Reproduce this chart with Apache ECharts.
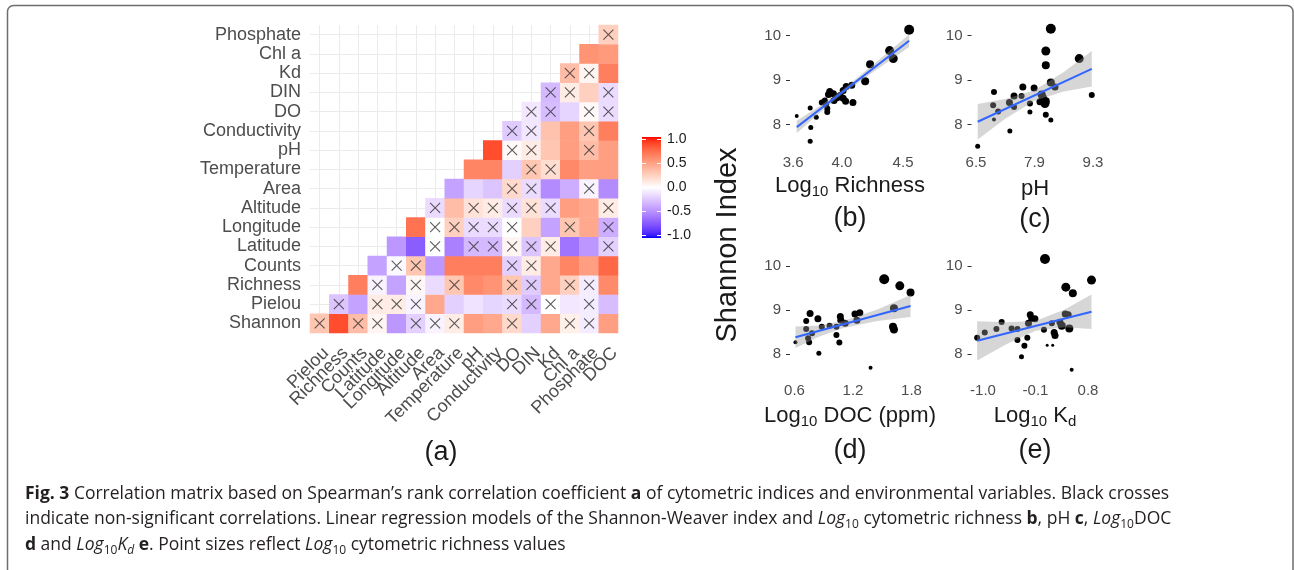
<!DOCTYPE html>
<html>
<head>
<meta charset="utf-8">
<script src="https://cdn.jsdelivr.net/npm/echarts@6.0.0/dist/echarts.min.js"></script>
<style>
html,body{margin:0;padding:0;background:#fff;}
#chart{width:1294px;height:570px;}
</style>
</head>
<body>
<div id="chart"></div>
<script>
// ---------------- DATA ----------------
// heatmap rows (bottom -> top) and columns (left -> right)
const rowVars = ['Shannon','Pielou','Richness','Counts','Latitude','Longitude','Altitude','Area','Temperature','pH','Conductivity','DO','DIN','Kd','Chl a','Phosphate'];
const colVars = ['Pielou','Richness','Counts','Latitude','Longitude','Altitude','Area','Temperature','pH','Conductivity','DO','DIN','Kd','Chl a','Phosphate','DOC'];
// Spearman rho for row i, columns i..15
const corrValues = [
  [0.30, 0.85, 0.35, 0.05, -0.45, -0.20, -0.05, 0.10, 0.50, 0.45, 0.20, -0.20, 0.45, 0.08, -0.08, 0.50],
  [-0.25, -0.40, 0.10, 0.10, -0.05, 0.45, -0.20, -0.12, -0.18, -0.15, -0.30, 0.00, -0.10, -0.08, -0.28],
  [0.65, -0.05, -0.40, 0.04, -0.15, 0.30, 0.60, 0.55, 0.30, -0.22, 0.45, 0.25, -0.08, 0.60],
  [-0.40, -0.02, 0.30, -0.45, 0.65, 0.65, 0.65, -0.20, 0.10, 0.45, 0.62, 0.50, 0.75],
  [-0.45, -0.70, 0.00, -0.55, -0.30, -0.30, 0.05, -0.25, 0.10, -0.60, -0.45, -0.20],
  [0.70, 0.00, 0.25, -0.15, -0.15, 0.00, 0.25, -0.40, 0.30, 0.45, -0.35],
  [-0.15, 0.35, 0.15, 0.10, -0.15, 0.15, -0.15, 0.50, 0.45, 0.10],
  [-0.40, -0.18, -0.25, 0.20, -0.15, -0.50, -0.35, -0.05, -0.50],
  [0.62, 0.62, -0.20, 0.30, 0.18, 0.60, 0.50, 0.50],
  [0.85, 0.03, 0.10, 0.30, 0.50, 0.35, 0.50],
  [-0.22, -0.10, 0.32, 0.50, 0.30, 0.65],
  [-0.10, -0.28, -0.18, 0.03, -0.15],
  [-0.30, 0.10, 0.25, -0.15],
  [0.35, 0.05, 0.65],
  [0.55, 0.52],
  [0.25]
];
// 1 = non-significant (black cross)
const nsFlags = [
  [1,0,1,1,0,1,1,1,0,0,1,0,0,1,1,0],
  [1,0,1,1,1,0,0,0,0,1,1,1,0,1,0],
  [0,1,0,1,0,1,0,0,1,1,0,1,1,0],
  [0,1,1,0,0,0,0,1,1,0,0,0,0],
  [0,0,1,0,1,1,1,1,1,0,0,1],
  [0,1,1,1,1,1,0,0,1,0,1],
  [1,0,1,1,1,1,1,0,0,1],
  [0,0,0,1,1,0,0,1,0],
  [0,0,0,1,1,0,0,0],
  [0,1,1,0,0,1,0],
  [1,1,0,0,1,0],
  [1,1,0,1,1],
  [1,1,0,1],
  [1,1,0],
  [0,0],
  [1]
];
const legendTicks = [1.0, 0.5, 0.0, -0.5, -1.0];

// scatter panels: [x, Shannon index, point diameter]
const richPts = [
  [4.55,10.13,10],[4.39,9.66,9],[4.42,9.48,9],[4.23,9.35,8],[4.19,8.97,8],[4.08,8.88,7],[4.035,8.85,7],
  [4.01,8.76,7],[3.90,8.74,7],[3.93,8.69,7],[3.89,8.67,7],[3.985,8.65,7],[3.86,8.54,6],[3.835,8.49,6],
  [4.01,8.59,7],[4.03,8.52,7],[4.09,8.49,7],[3.935,8.54,7],[3.88,8.36,6],[3.88,8.28,6],[3.79,8.16,5],
  [3.74,8.37,5],[3.63,8.19,4],[3.745,7.93,5],[3.74,7.62,5],[3.96,8.60,7],[3.87,8.45,6]
];
const phPts = [
  [8.29,10.15,10],[8.17,9.65,9],[8.17,9.33,8],[8.97,9.48,9],[9.27,8.66,6],[8.29,8.94,8],[8.39,8.84,7],
  [7.89,8.82,7],[7.62,8.84,7],[8.07,8.67,8],[8.10,8.60,8],[8.03,8.51,7],[8.15,8.47,9],[8.17,8.52,8],
  [8.17,8.22,6],[8.29,8.10,5],[7.79,8.28,5],[7.79,8.47,6],[7.59,8.64,6],[7.41,8.64,7],[7.41,8.39,6],
  [7.30,8.49,7],[6.93,8.73,6],[6.91,8.43,6],[7.03,8.29,6],[6.93,8.11,4],[7.31,7.85,5],[6.54,7.51,5]
];
const docPts = [
  [1.52,9.70,10],[1.68,9.55,9],[1.79,9.40,8],[1.62,9.04,8],[1.61,8.62,8],[1.62,8.56,8],[1.38,7.69,4],
  [1.27,8.94,7],[1.22,8.91,7],[1.24,8.77,7],[1.12,8.70,7],[1.07,8.85,7],[1.075,8.77,7],[1.03,8.62,6],
  [1.03,8.43,6],[1.06,8.26,6],[0.96,8.64,6],[0.88,8.62,6],[0.84,8.80,7],[0.85,8.02,5],[0.76,8.92,7],
  [0.72,8.75,6],[0.72,8.57,6],[0.78,8.47,6],[0.74,8.36,6],[0.75,8.27,6],[0.61,8.27,4]
];
const kdPts = [
  [0.063,10.16,10],[0.86,9.68,9],[0.42,9.52,9],[0.54,9.38,8],[0.52,7.64,4],[0.41,8.91,7],[0.46,8.89,7],
  [0.48,8.58,8],[0.32,8.72,7],[0.35,8.64,8],[0.22,8.49,7],[0.235,8.42,7],[0.045,8.55,6],[0.18,8.70,6],
  [-0.19,8.89,7],[-0.165,8.81,7],[-0.11,8.80,7],[-0.22,8.70,7],[-0.24,8.37,6],[-0.41,8.32,6],
  [-0.29,8.19,6],[-0.34,7.94,5],[-0.41,8.57,6],[-0.51,8.58,6],[-0.68,8.73,6],[-0.77,8.57,6],
  [-0.97,8.49,6],[-1.10,8.37,6],[0.10,8.20,3],[0.195,8.20,3]
];
// fitted regression lines (end points) and confidence bands [x, lower, upper]
const richFit = [[3.63,7.94],[4.55,9.88]];
const phFit = [[6.54,8.06],[9.27,9.25]];
const docFit = [[0.61,8.38],[1.79,9.09]];
const kdFit = [[-1.10,8.30],[0.86,8.96]];
const richBand = [[3.63,7.80,8.08],[3.80,8.22,8.38],[4.00,8.67,8.77],[4.25,9.17,9.33],[4.55,9.74,10.02]];
const phBand = [[6.54,7.66,8.46],[7.2,8.13,8.57],[7.9,8.53,8.77],[8.6,8.74,9.18],[9.27,8.85,9.65]];
const docBand = [[0.61,8.135,8.625],[0.85,8.39,8.65],[1.1,8.59,8.75],[1.45,8.75,9.01],[1.79,8.84,9.34]];
const kdBand = [[-1.10,7.855,8.745],[-0.6,8.22,8.72],[-0.1,8.53,8.75],[0.4,8.61,9.01],[0.86,8.57,9.35]];
// tick labels
const shannonTicks = [8, 9, 10];
const richTicks = [3.6, 4.0, 4.5];
const phTicks = [6.5, 7.9, 9.3];
const docTicks = [0.6, 1.2, 1.8];
const kdTicks = [-1.0, -0.1, 0.8];

// ---------------- COLOUR SCALE (blue-white-red, Lab interpolation) ----------------
function s2l(c){c/=255;return c<=0.04045?c/12.92:Math.pow((c+0.055)/1.055,2.4);}
function l2s(c){c=Math.max(0,Math.min(1,c));return Math.round(255*(c<=0.0031308?12.92*c:1.055*Math.pow(c,1/2.4)-0.055));}
function rgb2lab(rgb){
  const R=s2l(rgb[0]),G=s2l(rgb[1]),B=s2l(rgb[2]);
  const X=(0.4124564*R+0.3575761*G+0.1804375*B)/0.95047,Y=0.2126729*R+0.7151522*G+0.0721750*B,Z=(0.0193339*R+0.1191920*G+0.9503041*B)/1.08883;
  const f=t=>t>0.008856?Math.cbrt(t):(7.787*t+16/116);
  const fx=f(X),fy=f(Y),fz=f(Z);
  return [116*fy-16,500*(fx-fy),200*(fy-fz)];
}
function lab2rgb(lab){
  const fy=(lab[0]+16)/116,fx=fy+lab[1]/500,fz=fy-lab[2]/200;
  const fi=t=>t*t*t>0.008856?t*t*t:(t-16/116)/7.787;
  const X=fi(fx)*0.95047,Y=fi(fy),Z=fi(fz)*1.08883;
  return [3.2404542*X-1.5371385*Y-0.4985314*Z,-0.9692660*X+1.8760108*Y+0.0415560*Z,0.0556434*X-0.2040259*Y+1.0572252*Z].map(l2s);
}
const labW=rgb2lab([255,255,255]),labB=rgb2lab([0,0,255]),labR=rgb2lab([255,0,0]);
function colAt(v){
  const e=v<0?labB:labR,t=Math.abs(v);
  const c=lab2rgb([0,1,2].map(k=>labW[k]+(e[k]-labW[k])*t));
  return 'rgb('+c.join(',')+')';
}
const palette=[];for(let i=0;i<=40;i++)palette.push(colAt(-1+i*0.05));

// ---------------- BUILD ----------------
const heatData=[],crossData=[];
corrValues.forEach((row,r)=>row.forEach((v,k)=>{
  heatData.push([r+k,r,v]);
  if(nsFlags[r][k])crossData.push([r+k,r]);
}));

const FONT='Liberation Sans';
const tickGrey='#4d4d4d';

function valX(gi,min,max,ticks,margin){
  return {type:'value',gridIndex:gi,min:min,max:max,
    axisLine:{show:false,onZero:false},axisTick:{show:false},splitLine:{show:false},
    axisLabel:{customValues:ticks,formatter:v=>v.toFixed(1),fontSize:15,color:tickGrey,margin:margin,fontFamily:FONT}};
}
function valY(gi){
  return {type:'value',gridIndex:gi,min:7.38,max:10.28,
    axisLine:{show:false,onZero:false},splitLine:{show:false},
    axisTick:{show:true,customValues:shannonTicks,length:4,lineStyle:{color:'#333',width:1}},
    axisLabel:{customValues:shannonTicks,formatter:v=>String(v),fontSize:15,color:tickGrey,margin:9,fontFamily:FONT}};
}
function bandSeries(gi,band){
  return {type:'custom',xAxisIndex:gi,yAxisIndex:gi,data:band,silent:true,z:3,clip:false,
    renderItem:(params,api)=>{
      if(params.dataIndex!==0)return null;
      const top=band.map(b=>api.coord([b[0],b[2]]));
      const bot=band.map(b=>api.coord([b[0],b[1]])).reverse();
      return {type:'polygon',shape:{points:top.concat(bot)},style:{fill:'rgba(153,153,153,0.4)'}};
    }};
}
function ptSeries(gi,pts){
  return {type:'scatter',xAxisIndex:gi,yAxisIndex:gi,data:pts,symbolSize:d=>d[2],
    itemStyle:{color:'#000',opacity:1},z:2,silent:true};
}
function fitSeries(gi,fit){
  return {type:'line',xAxisIndex:gi,yAxisIndex:gi,data:fit,symbol:'none',
    lineStyle:{color:'#3366FF',width:2},z:4,silent:true};
}

const sub={fontSize:15,lineHeight:14,verticalAlign:'bottom',fontFamily:FONT,fill:'#1a1a1a'};
function titleText(x,y,txt){
  return {type:'text',x:x,y:y,style:{text:txt,align:'center',verticalAlign:'middle',
    fontSize:22,fontFamily:FONT,fill:'#1a1a1a',
    rich:{a:{fontSize:22,lineHeight:26,fontFamily:FONT,fill:'#1a1a1a'},s:sub}}};
}
function letter(x,y,t){
  return {type:'text',x:x,y:y,style:{text:t,align:'center',verticalAlign:'middle',fontSize:27,fontFamily:FONT,fill:'#1a1a1a'}};
}

// colour bar
const cbX=642,cbY=137,cbW=19,cbH=101;
const cbStops=palette.map((c,i)=>({offset:1-i/40,color:c})).reverse();
const cbPos=v=>139.5+(1-v)*48;
const graphics=[
  {type:'rect',shape:{x:7.5,y:5.5,width:1285.5,height:600,r:6},style:{fill:'none',stroke:'#6e6e6e',lineWidth:1.5}},
  letter(441,453,'(a)'),
  {type:'rect',shape:{x:cbX,y:cbY,width:cbW,height:cbH},style:{fill:new echarts.graphic.LinearGradient(0,0,0,1,cbStops)}}
];
legendTicks.forEach(v=>{
  const y=cbPos(v);
  graphics.push({type:'line',shape:{x1:cbX,y1:y,x2:cbX+4,y2:y},style:{stroke:'#fff',lineWidth:1}});
  graphics.push({type:'line',shape:{x1:cbX+cbW-4,y1:y,x2:cbX+cbW,y2:y},style:{stroke:'#fff',lineWidth:1}});
  graphics.push({type:'text',x:667,y:y,style:{text:v.toFixed(1),align:'left',verticalAlign:'middle',fontSize:14,fontFamily:FONT,fill:'#1a1a1a'}});
});
graphics.push({type:'text',x:728,y:245,rotation:Math.PI/2,style:{text:'Shannon Index',align:'center',verticalAlign:'middle',fontSize:29,fontFamily:FONT,fill:'#1a1a1a'}});
graphics.push(titleText(850,186,'{a|Log}{s|10}{a| Richness}'));
graphics.push(titleText(1035,189,'{a|pH}'));
graphics.push(titleText(850,416,'{a|Log}{s|10}{a| DOC (ppm)}'));
graphics.push(titleText(1035,416,'{a|Log}{s|10}{a| K}{s|d}'));
graphics.push(letter(850,219,'(b)'));
graphics.push(letter(1035,220,'(c)'));
graphics.push(letter(850,451,'(d)'));
graphics.push(letter(1035,451,'(e)'));

// caption
const CF='Open Sans';
const CS=17.5;
const capRich={
  b:{fontWeight:'bold',fontSize:CS,fontFamily:CF,lineHeight:23,fill:'#231f20'},
  i:{fontStyle:'italic',fontSize:CS,fontFamily:CF,lineHeight:23,fill:'#231f20'},
  s:{fontSize:12,fontFamily:CF,lineHeight:13,verticalAlign:'bottom',fill:'#231f20'},
  si:{fontSize:12,fontStyle:'italic',fontFamily:CF,lineHeight:13,verticalAlign:'bottom',fill:'#231f20'},
  n:{fontSize:CS,fontFamily:CF,lineHeight:23,fill:'#231f20'}
};
const capLines=[
  '{b|Fig. 3}{n| Correlation matrix based on Spearman\u2019s rank correlation coefficient }{b|a}{n| of cytometric indices and environmental variables. Black crosses}',
  '{n|indicate non-significant correlations. Linear regression models of the Shannon-Weaver index and }{i|Log}{s|10}{n| cytometric richness }{b|b}{n|, pH }{b|c}{n|, }{i|Log}{s|10}{n|DOC}',
  '{b|d}{n| and }{i|Log}{s|10}{i|K}{si|d}{n| }{b|e}{n|. Point sizes reflect }{i|Log}{s|10}{n| cytometric richness values}'
];
[494,519,545].forEach((y,i)=>graphics.push({type:'text',x:25,y:y,style:{text:capLines[i],align:'left',verticalAlign:'middle',fontSize:CS,fontFamily:CF,fill:'#231f20',rich:capRich}}));

const option={
  animation:false,
  backgroundColor:'#fff',
  textStyle:{fontFamily:FONT},
  grid:[
    {left:310,top:25,width:308,height:308},
    {left:790,top:23,width:126,height:129},
    {left:971.5,top:23,width:126,height:129},
    {left:790,top:253.7,width:126,height:127.6},
    {left:971.5,top:253.7,width:126,height:127.6}
  ],
  xAxis:[
    {type:'category',gridIndex:0,data:colVars,axisLine:{show:false},axisTick:{show:false},splitLine:{show:false},
     axisLabel:{interval:0,rotate:45,fontSize:18,color:tickGrey,margin:11,fontFamily:FONT,align:'right',verticalAlign:'top'}},
    valX(1,3.575,4.606,richTicks,3),
    valX(2,6.392,9.407,phTicks,3),
    valX(3,0.554,1.846,docTicks,2),
    valX(4,-1.197,0.963,kdTicks,2)
  ],
  yAxis:[
    {type:'category',gridIndex:0,data:rowVars,axisLine:{show:false},axisTick:{show:false},splitLine:{show:false},
     axisLabel:{interval:0,fontSize:18,color:tickGrey,margin:9,fontFamily:FONT}},
    valY(1),valY(2),valY(3),valY(4)
  ],
  visualMap:{type:'continuous',min:-1,max:1,show:false,seriesIndex:0,inRange:{color:palette}},
  series:[
    {type:'heatmap',xAxisIndex:0,yAxisIndex:0,data:heatData,z:2,silent:true},
    {type:'scatter',xAxisIndex:0,yAxisIndex:0,data:crossData,z:3,silent:true,
     symbol:'path://M0,0L10,10M10,0L0,10',symbolSize:10,
     itemStyle:{color:'rgba(0,0,0,0)',borderColor:'#333',borderWidth:1.1},
     markLine:{silent:true,z:1,symbol:'none',label:{show:false},animation:false,
       lineStyle:{color:'#ebebeb',width:1,type:'solid'},
       data:colVars.map(c=>({xAxis:c})).concat(rowVars.map(r=>({yAxis:r})))}},
    ptSeries(1,richPts),bandSeries(1,richBand),fitSeries(1,richFit),
    ptSeries(2,phPts),bandSeries(2,phBand),fitSeries(2,phFit),
    ptSeries(3,docPts),bandSeries(3,docBand),fitSeries(3,docFit),
    ptSeries(4,kdPts),bandSeries(4,kdBand),fitSeries(4,kdFit)
  ],
  graphic:graphics
};
const chart=echarts.init(document.getElementById('chart'),null,{renderer:'canvas'});
chart.setOption(option);
</script>
</body>
</html>
